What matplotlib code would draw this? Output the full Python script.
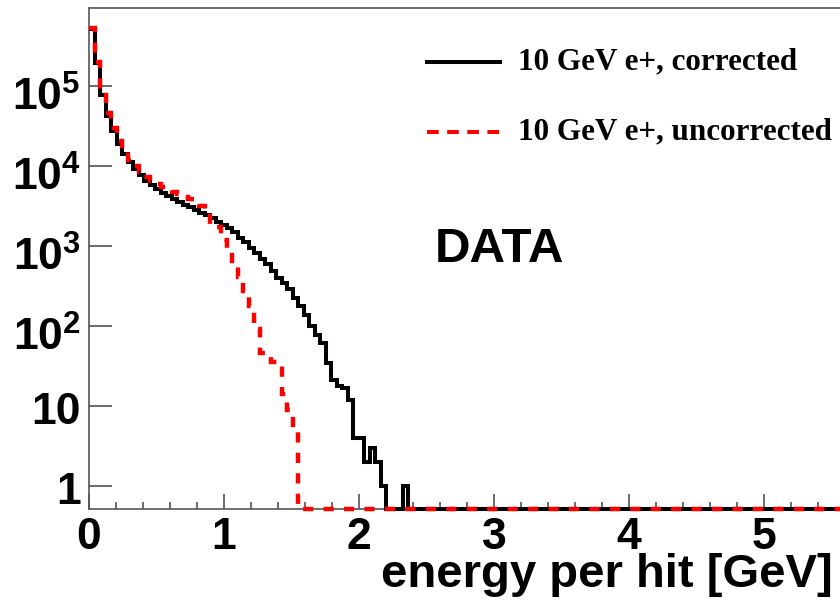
import numpy as np
import matplotlib
matplotlib.use("Agg")
import matplotlib.pyplot as plt
import matplotlib.transforms as mtransforms
from matplotlib.ticker import LogLocator, MultipleLocator, NullFormatter

plt.rcParams['font.family'] = 'Liberation Sans'
plt.rcParams['mathtext.fontset'] = 'custom'
plt.rcParams['mathtext.rm'] = 'Liberation Sans:bold'
plt.rcParams['mathtext.bf'] = 'Liberation Sans:bold'

## binning: 0 - 5.5 GeV in 135 bins, a couple of extra empty bins past the frame
bin_width = 5.5 / 135
n_bins = 138
edges = np.arange(n_bins + 1) * bin_width

## hits per bin, 10 GeV e+ (leading non-empty bins, rest are empty)
corrected = [516000, 194000, 77200, 42200, 27400, 18800, 14100, 11200, 9170, 7720,
             6490, 5790, 5160, 4600, 4220, 3870, 3550, 3250, 3030, 2780,
             2585, 2440, 2240, 2000, 1830, 1680, 1500, 1260, 1120, 944,
             818, 688, 596, 487, 398, 345, 290, 224, 178, 137,
             100, 77, 61, 34, 21, 18, 17, 12, 4, 4,
             2, 3, 2, 1, 0, 0, 0, 1]
uncorrected = [531000, 200000, 84100, 46000, 29900, 20500, 15400, 11900, 10000, 8410,
               7290, 6490, 5960, 5460, 5160, 4800, 4470, 4100, 3870, 3450,
               3160, 2900, 1880, 1730, 1190, 841, 596, 410, 274, 178,
               92, 46, 43, 36, 35, 14, 9, 5]

labels = ["10 GeV e+, corrected", "10 GeV e+, uncorrected"]
xticks = [0, 1, 2, 3, 4, 5]
yticks = [1, 10, 1e2, 1e3, 1e4, 1e5]
ytick_labels = ["1", "10", r"10$^{2}$", r"10$^{3}$", r"10$^{4}$", r"10$^{5}$"]

ymin, ymax = 0.516, 9.44e5


def full(vals):
    h = np.zeros(n_bins)
    h[:len(vals)] = vals
    return h


h_corr = full(corrected)
h_unc = full(uncorrected)

fig = plt.figure(figsize=(8.4, 6.0), dpi=100)
ax = fig.add_axes([89 / 840, 91 / 600, 751 / 840, 501 / 600])

## empty bins are drawn along the lower frame, like ROOT does
ax.stairs(np.where(h_corr > 0, h_corr, ymin), edges, baseline=None,
          color='black', lw=2.9, clip_on=False, zorder=3)
ax.stairs(np.where(h_unc > 0, h_unc, ymin), edges, baseline=None,
          color='#ff0000', lw=3.2, linestyle=(0, (2.3, 2.3)), clip_on=False, zorder=4)

ax.set_yscale('log')
ax.set_xlim(0, 751 / 135)
ax.set_ylim(ymin, ymax)

ax.set_xticks(xticks)
ax.set_xticklabels([str(t) for t in xticks])
ax.xaxis.set_minor_locator(MultipleLocator(0.2))
ax.set_yticks(yticks)
ax.set_yticklabels(ytick_labels)
ax.yaxis.set_minor_locator(LogLocator(base=10, subs=np.arange(2, 10)))
ax.yaxis.set_minor_formatter(NullFormatter())

ax.tick_params(axis='both', which='both', direction='in', color='#444444', width=1.1,
               top=False, right=False)
ax.tick_params(axis='y', which='major', length=16.5, pad=6, labelsize=32)
ax.tick_params(axis='y', which='minor', length=8.6)
ax.tick_params(axis='x', which='major', length=10.8, pad=6, labelsize=32)
ax.tick_params(axis='x', which='minor', length=5)
for lab in ax.get_xticklabels() + ax.get_yticklabels():
    lab.set_fontweight('bold')

## push the decade labels down a little so the digits sit on the tick
for lab in ax.get_yticklabels():
    dy = -8 if '$' in lab.get_text() else -2
    lab.set_transform(lab.get_transform() +
                      mtransforms.ScaledTranslation(0, dy / 100, fig.dpi_scale_trans))

for side in ['left', 'bottom', 'top']:
    ax.spines[side].set_color('#555555')
    ax.spines[side].set_linewidth(1.2)
ax.spines['right'].set_visible(False)

ax.set_xlabel("energy per hit [GeV]", fontsize=34, fontweight='bold', ha='right', va='baseline')
ax.xaxis.set_label_coords((833 - 89) / 751, (509 - 587) / 501)

## legend
ax.plot([0.450, 0.547], [0.892, 0.892], transform=ax.transAxes, color='black', lw=2.9, clip_on=False)
ax.plot([0.450, 0.547], [0.7525, 0.7525], transform=ax.transAxes, color='#ff0000', lw=2.9,
        linestyle=(0, (2.9, 2.1)), clip_on=False)
for yy, txt in zip([0.892, 0.7525], labels):
    ax.text(0.571, yy, txt, transform=ax.transAxes, fontsize=22.4, fontweight='bold',
            family='Liberation Serif', va='center', ha='left')

ax.text(0.4607, 0.493, "DATA", transform=ax.transAxes, fontsize=35.5, fontweight='bold',
        va='baseline', ha='left')

fig.savefig("out.png", dpi=100, facecolor='white')
